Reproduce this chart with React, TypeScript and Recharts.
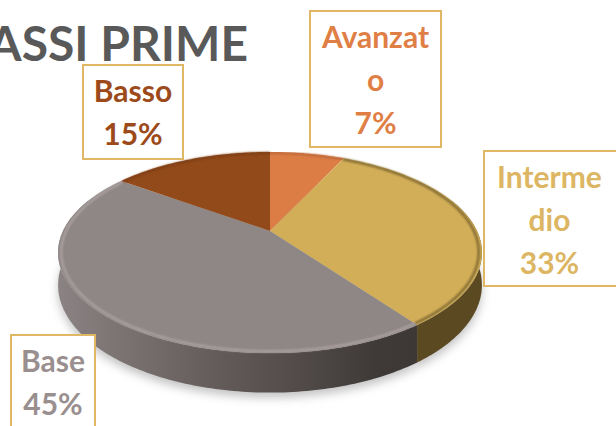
import React from 'react';
import { PieChart, Pie } from 'recharts';

const categories = ['Avanzato', 'Intermedio', 'Base', 'Basso'];
const values = [7, 33, 45, 15];
const labelLines = [
  ['Avanzat', 'o', '7%'],
  ['Interme', 'dio', '33%'],
  ['Base', '45%'],
  ['Basso', '15%']
];
const titleText = 'ASSI PRIME';

const faceColors = ['#dc7d45', '#d2ae58', '#8f8686', '#934a1a'];
const wallColors = ['#8a4a24', '#5b4922', 'url(#greyWall)', '#5e3010'];
const rimColors = ['#b8683a', '#6e5a2a', '#b0a6a6', '#7a3d15'];
const textColors = ['#df7f46', '#dcb662', '#9a8f8f', '#9c4a1a'];

const tableData = categories.map((name, i) => ({ name, value: values[i] }));

// perspective of the tilted disc, slice angle -> screen offset from the apex
const H_RADIUS = 207;
const V_RADIUS = 96;
const TILT = 0.214;
const DEPTH = 31;

const project = (deg: number, scale = 1) => {
  const t = (deg * Math.PI) / 180;
  const w = 1 + TILT * Math.cos(t);
  return {
    x: (scale * H_RADIUS * Math.sin(t)) / w,
    y: (-scale * V_RADIUS * Math.cos(t)) / w,
    drop: DEPTH / w
  };
};

const arcThetas = (from: number, to: number) => {
  const out: number[] = [];
  for (let d = from; d < to; d += 1) out.push(d);
  out.push(to);
  return out;
};

const toPath = (pts: { x: number; y: number }[], close = true) =>
  pts.map((p, i) => `${i ? 'L' : 'M'}${p.x.toFixed(1)} ${p.y.toFixed(1)}`).join(' ') + (close ? ' Z' : '');

const sliceRange = (props: any) => ({
  from: 90 - props.startAngle,
  to: 90 - props.endAngle,
  idx: categories.indexOf(props.name)
});

const ShadowShape = (props: any) => {
  const { from, to } = sliceRange(props);
  const pts = arcThetas(from, to).map((d) => {
    const p = project(d);
    return { x: props.cx + p.x, y: props.cy + p.y + p.drop + 5 };
  });
  return <path d={toPath([{ x: props.cx, y: props.cy + 40 }, ...pts])} fill="#c2c2c2" filter="url(#softShadow)" />;
};

const WallShape = (props: any) => {
  const { from, to, idx } = sliceRange(props);
  const lo = Math.max(from, 70);
  const hi = Math.min(to, 290);
  if (hi <= lo) return null;
  const top = arcThetas(lo, hi).map((d) => {
    const p = project(d);
    return { x: props.cx + p.x, y: props.cy + p.y, drop: p.drop };
  });
  const bottom = [...top].reverse().map((p) => ({ x: p.x, y: p.y + p.drop }));
  return <path d={toPath([...top, ...bottom])} fill={wallColors[idx]} />;
};

const FaceShape = (props: any) => {
  const { from, to, idx } = sliceRange(props);
  const edge = arcThetas(from, to).map((d) => {
    const p = project(d);
    return { x: props.cx + p.x, y: props.cy + p.y };
  });
  const rim = arcThetas(from, to).map((d) => {
    const p = project(d, 0.985);
    return { x: props.cx + p.x, y: props.cy + p.y };
  });
  return (
    <g>
      <path d={toPath([{ x: props.cx, y: props.cy }, ...edge])} fill={faceColors[idx]} />
      <path
        d={toPath(rim, false)}
        fill="none"
        stroke={rimColors[idx]}
        strokeWidth={2}
        filter="url(#softRim)"
      />
    </g>
  );
};

const boxes = [
  { left: 309, top: 10, width: 133, height: 138, pad: 3 },
  { left: 483, top: 150, width: 140, height: 137, pad: 3 },
  { left: 10, top: 334, width: 86, height: 120, pad: 3 },
  { left: 82, top: 64, width: 102, height: 96, pad: 3 }
];

export default function App() {
  return (
    <div
      style={{
        position: 'absolute',
        left: 0,
        top: 0,
        width: 616,
        height: 426,
        overflow: 'hidden',
        background: '#ffffff',
        fontFamily: 'Lato, sans-serif',
        fontWeight: 700
      }}
    >
      <PieChart width={616} height={426} margin={{ top: 0, right: 0, bottom: 0, left: 0 }}>
        <defs>
          <linearGradient id="greyWall" gradientUnits="userSpaceOnUse" x1={58} y1={0} x2={482} y2={0}>
            <stop offset="0%" stopColor="#8b8383" />
            <stop offset="35%" stopColor="#665e5c" />
            <stop offset="75%" stopColor="#3f3a38" />
            <stop offset="100%" stopColor="#3a3432" />
          </linearGradient>
          <filter id="softShadow" x="-20%" y="-20%" width="140%" height="140%">
            <feGaussianBlur stdDeviation="5" />
          </filter>
          <filter id="softRim" x="-10%" y="-10%" width="120%" height="120%">
            <feGaussianBlur stdDeviation="1" />
          </filter>
        </defs>
        <Pie
          data={tableData}
          dataKey="value"
          nameKey="name"
          cx={270}
          cy={231}
          outerRadius={100}
          startAngle={90}
          endAngle={-270}
          stroke="none"
          shape={ShadowShape}
          isAnimationActive={false}
        />
        <Pie
          data={tableData}
          dataKey="value"
          nameKey="name"
          cx={270}
          cy={231}
          outerRadius={100}
          startAngle={90}
          endAngle={-270}
          stroke="none"
          shape={WallShape}
          isAnimationActive={false}
        />
        <Pie
          data={tableData}
          dataKey="value"
          nameKey="name"
          cx={270}
          cy={231}
          outerRadius={100}
          startAngle={90}
          endAngle={-270}
          stroke="none"
          shape={FaceShape}
          isAnimationActive={false}
        />
      </PieChart>

      <div
        style={{
          position: 'absolute',
          right: 616 - 248,
          top: 14,
          fontSize: 48,
          lineHeight: '58px',
          color: '#595959',
          whiteSpace: 'nowrap'
        }}
      >
        {titleText}
      </div>

      {boxes.map((b, i) => (
        <div
          key={categories[i]}
          style={{
            position: 'absolute',
            left: b.left,
            top: b.top,
            width: b.width,
            height: b.height,
            boxSizing: 'border-box',
            border: '2px solid #dfb765',
            background: '#ffffff',
            paddingTop: b.pad,
            textAlign: 'center',
            fontSize: 30,
            lineHeight: '43px',
            color: textColors[i],
            whiteSpace: 'nowrap'
          }}
        >
          {labelLines[i].map((line) => (
            <div key={line} style={{ width: i === 1 ? 133 - 4 : 'auto' }}>
              {line}
            </div>
          ))}
        </div>
      ))}
    </div>
  );
}
